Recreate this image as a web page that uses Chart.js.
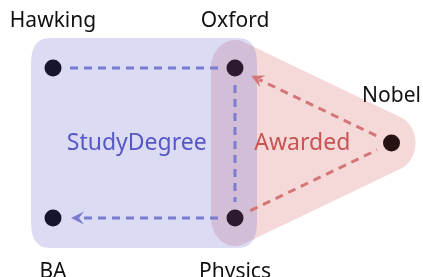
<!DOCTYPE html>
<html>
<head>
<meta charset="utf-8">
<script src="https://cdn.jsdelivr.net/npm/chart.js@4/dist/chart.umd.min.js"></script>
<style>
  body { margin: 0; background: #fff; }
  canvas { display: block; }
</style>
</head>
<body>
<canvas id="myChart" width="423" height="277"></canvas>
<script>
// nodes of the graph (layout in data units)
var nodes = ['Hawking', 'Oxford', 'Nobel', 'BA', 'Physics'];
var nodeX = [0, 1, 1.86, 0, 1];
var nodeY = [1, 1, 0.5, 0, 0];
var labelSide = ['top', 'top', 'top', 'bottom', 'bottom'];

// edges
var edgeFrom = ['Hawking', 'Oxford', 'Physics', 'Nobel', 'Physics'];
var edgeTo = ['Oxford', 'Physics', 'BA', 'Oxford', 'Nobel'];
var edgeGroup = ['StudyDegree', 'StudyDegree', 'StudyDegree', 'Awarded', 'Awarded'];
var edgeArrow = [false, false, true, true, false];

// groups (hulls)
var groups = ['Awarded', 'StudyDegree'];
var groupMembers = [['Oxford', 'Physics', 'Nobel'], ['Hawking', 'Oxford', 'BA', 'Physics']];
var groupLabelX = [1.37, 0.46];
var groupLabelY = [0.5, 0.5];

var groupStyle = {
    StudyDegree: { fill: 'rgba(110,110,210,0.25)', edge: '#7b7bd2', text: '#5757c6', padX: 22, padY: 30 },
    Awarded: { fill: 'rgba(210,80,80,0.22)', edge: '#d47676', text: '#c85454', padX: 24, padY: 28 }
};
var nodeColors = ['#15152e', '#2e1a30', '#261212', '#15152e', '#2e1a30'];

function px(chart, name) {
    var i = nodes.indexOf(name);
    return {
        x: chart.scales.x.getPixelForValue(nodeX[i]),
        y: chart.scales.y.getPixelForValue(nodeY[i])
    };
}

function convexHull(pts) {
    pts = pts.slice().sort(function(a, b) { return a.x - b.x || a.y - b.y; });
    function cross(o, a, b) { return (a.x - o.x) * (b.y - o.y) - (a.y - o.y) * (b.x - o.x); }
    var lower = [], upper = [];
    pts.forEach(function(p) {
        while (lower.length >= 2 && cross(lower[lower.length - 2], lower[lower.length - 1], p) <= 0) lower.pop();
        lower.push(p);
    });
    for (var i = pts.length - 1; i >= 0; i--) {
        var p = pts[i];
        while (upper.length >= 2 && cross(upper[upper.length - 2], upper[upper.length - 1], p) <= 0) upper.pop();
        upper.push(p);
    }
    upper.pop(); lower.pop();
    return lower.concat(upper);
}

// rounded-square-ish corner: superellipse so the box corners look like the reference
function hullPoint(c, st, a) {
    var cs = Math.cos(a), sn = Math.sin(a);
    var p = 0.7;
    return {
        x: c.x + st.padX * Math.sign(cs) * Math.pow(Math.abs(cs), p),
        y: c.y + st.padY * Math.sign(sn) * Math.pow(Math.abs(sn), p)
    };
}

function drawArrow(ctx, x, y, ang, color) {
    ctx.save();
    ctx.translate(x, y);
    ctx.rotate(ang);
    ctx.fillStyle = color;
    ctx.beginPath();
    ctx.moveTo(0, 0);
    ctx.lineTo(-13, -6.5);
    ctx.lineTo(-8, 0);
    ctx.lineTo(-13, 6.5);
    ctx.closePath();
    ctx.fill();
    ctx.restore();
}

var graphPlugin = {
    id: 'graph',
    beforeDatasetsDraw: function(chart) {
        var ctx = chart.ctx;
        // hulls
        groups.forEach(function(g, gi) {
            var st = groupStyle[g];
            var pts = [];
            groupMembers[gi].forEach(function(n) {
                var c = px(chart, n);
                for (var k = 0; k < 96; k++) {
                    var a = k / 96 * Math.PI * 2;
                    pts.push(g == 'StudyDegree' ? hullPoint(c, st, a) :
                        { x: c.x + st.padX * Math.cos(a), y: c.y + st.padY * Math.sin(a) });
                }
            });
            var hull = convexHull(pts);
            ctx.save();
            ctx.fillStyle = st.fill;
            ctx.beginPath();
            hull.forEach(function(p, i) { if (i == 0) ctx.moveTo(p.x, p.y); else ctx.lineTo(p.x, p.y); });
            ctx.closePath();
            ctx.fill();
            ctx.restore();
        });
        // edges
        edgeFrom.forEach(function(f, i) {
            var a = px(chart, f), b = px(chart, edgeTo[i]);
            var dx = b.x - a.x, dy = b.y - a.y;
            var len = Math.sqrt(dx * dx + dy * dy);
            var ux = dx / len, uy = dy / len;
            var color = groupStyle[edgeGroup[i]].edge;
            var s = 17, e = edgeArrow[i] ? 18 : 16;
            var endLine = edgeArrow[i] ? e + 9 : e;
            ctx.save();
            ctx.strokeStyle = color;
            ctx.lineWidth = 3;
            ctx.setLineDash([8, 6]);
            ctx.beginPath();
            ctx.moveTo(a.x + ux * s, a.y + uy * s);
            ctx.lineTo(b.x - ux * endLine, b.y - uy * endLine);
            ctx.stroke();
            ctx.restore();
            if (edgeArrow[i])
                drawArrow(ctx, b.x - ux * e, b.y - uy * e, Math.atan2(uy, ux), color);
        });
    },
    afterDatasetsDraw: function(chart) {
        var ctx = chart.ctx;
        ctx.save();
        ctx.textAlign = 'center';
        ctx.textBaseline = 'alphabetic';
        ctx.font = '21px "Noto Sans"';
        ctx.fillStyle = '#111111';
        nodes.forEach(function(n, i) {
            var c = px(chart, n);
            var y = labelSide[i] == 'top' ? c.y - 41 : c.y + 60;
            ctx.fillText(n, c.x, y);
        });
        ctx.font = '23px "Noto Sans"';
        groups.forEach(function(g, gi) {
            ctx.fillStyle = groupStyle[g].text;
            var x = chart.scales.x.getPixelForValue(groupLabelX[gi]);
            var y = chart.scales.y.getPixelForValue(groupLabelY[gi]);
            ctx.fillText(g, x, y + 7);
        });
        ctx.restore();
    }
};

var ctx = document.getElementById('myChart').getContext('2d');
var chart = new Chart(ctx, {
    type: 'scatter',
    data: {
        datasets: [{
            label: 'nodes',
            data: nodes.map(function(n, i) { return { x: nodeX[i], y: nodeY[i] }; }),
            backgroundColor: nodeColors,
            borderWidth: 0,
            pointRadius: 8.5,
            pointHoverRadius: 8.5
        }]
    },
    options: {
        responsive: false,
        animation: false,
        devicePixelRatio: 1,
        events: [],
        layout: { padding: 0, autoPadding: false },
        plugins: { legend: { display: false }, tooltip: { enabled: false } },
        scales: {
            x: { type: 'linear', display: false, min: -0.2912, max: 2.033 },
            y: { type: 'linear', display: false, min: -0.3933, max: 1.4533 }
        }
    },
    plugins: [graphPlugin]
});
</script>
</body>
</html>
